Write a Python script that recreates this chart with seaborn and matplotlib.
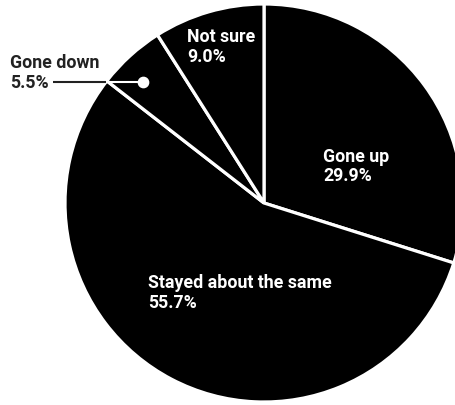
import matplotlib
matplotlib.use("Agg")
import matplotlib.pyplot as plt
import seaborn as sns
import numpy as np

sns.set_style("white")
plt.rcParams['font.family'] = ['Roboto', 'DejaVu Sans']

categories = ["Gone up", "Stayed about the same", "Gone down", "Not sure"]
values = [29.9, 55.7, 5.5, 9.0]
pct_labels = ["29.9%", "55.7%", "5.5%", "9.0%"]

W, H = 456, 405
fig = plt.figure(figsize=(W / 100, H / 100), dpi=100)
ax = fig.add_axes([0, 0, 1, 1])

cx, cy, r = 264, H - 203, 199
ax.pie(values, startangle=90, counterclock=False, colors=["black"] * 4,
       center=(cx, cy), radius=r,
       wedgeprops=dict(edgecolor="white", linewidth=2.3))
ax.set_xlim(0, W)
ax.set_ylim(0, H)
ax.set_aspect("equal")
ax.axis("off")

fs = 12.8
kw = dict(fontsize=fs, fontweight="bold", ha="left", va="baseline")

def label(x, ybase, name, pct, color):
    ax.text(x, H - ybase, name, color=color, **kw)
    ax.text(x, H - ybase - 19.5, pct, color=color, **kw)

label(323, 162, categories[0], pct_labels[0], "white")
label(148, 288, categories[1], pct_labels[1], "white")
label(187, 42, categories[3], pct_labels[3], "white")
label(10, 68, categories[2], pct_labels[2], "#222222")

# leader line for "Gone down"
ly = H - 82
edge_x = cx - np.sqrt(r ** 2 - (ly - cy) ** 2)
ax.plot([53, edge_x], [ly, ly], color="#222222", lw=1.5, solid_capstyle="butt")
ax.plot([edge_x, 143], [ly, ly], color="white", lw=1.5, solid_capstyle="butt")
ax.scatter([143], [ly], s=55, color="white", zorder=5)

fig.savefig("out.png", dpi=100, facecolor="white")
